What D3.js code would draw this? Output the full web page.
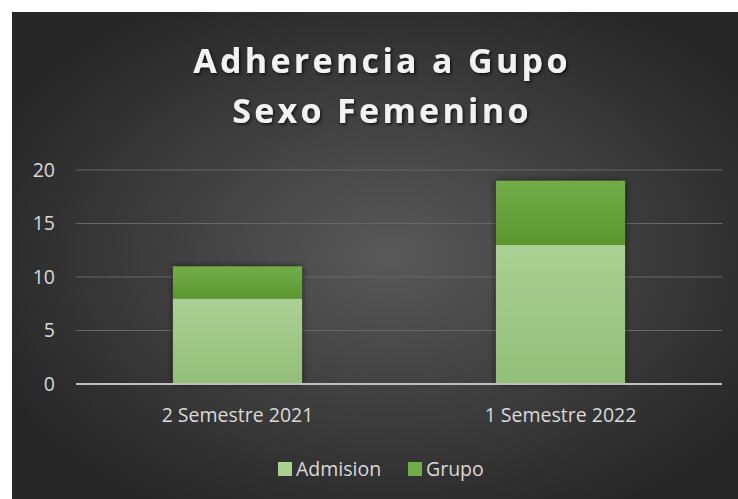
<!DOCTYPE html>
<html>
<head>
<meta charset="utf-8">
<script src="https://cdn.jsdelivr.net/npm/d3@7"></script>
<style>
  body { margin: 0; background: #fff; }
  text { font-family: "Open Sans", "Noto Sans", sans-serif; }
</style>
</head>
<body>
<script>
var categories = ["2 Semestre 2021", "1 Semestre 2022"];
var admision = [8, 13];
var grupo = [3, 6];
var seriesNames = ["Admision", "Grupo"];
var yTicks = [0, 5, 10, 15, 20];

var w = 738, h = 499;
var svg = d3.select("body").append("svg")
    .attr("width", w)
    .attr("height", h);

var defs = svg.append("defs");
var bg = defs.append("radialGradient").attr("id", "bg")
    .attr("cx", "52%").attr("cy", "50%").attr("r", "60%");
bg.append("stop").attr("offset", "0%").attr("stop-color", "#595959");
bg.append("stop").attr("offset", "100%").attr("stop-color", "#262626");

var g1 = defs.append("linearGradient").attr("id", "gA").attr("x1", 0).attr("y1", 0).attr("x2", 0).attr("y2", 1);
g1.append("stop").attr("offset", "0%").attr("stop-color", "#abd093");
g1.append("stop").attr("offset", "100%").attr("stop-color", "#93bf79");
var g2 = defs.append("linearGradient").attr("id", "gG").attr("x1", 0).attr("y1", 0).attr("x2", 0).attr("y2", 1);
g2.append("stop").attr("offset", "0%").attr("stop-color", "#72ad4a");
g2.append("stop").attr("offset", "100%").attr("stop-color", "#5b962e");

var shadow = defs.append("filter").attr("id", "sh")
    .attr("x", "-20%").attr("y", "-20%").attr("width", "140%").attr("height", "140%");
shadow.append("feGaussianBlur").attr("in", "SourceAlpha").attr("stdDeviation", 3);
shadow.append("feComponentTransfer").append("feFuncA").attr("type", "linear").attr("slope", 0.6);
var merge = shadow.append("feMerge");
merge.append("feMergeNode");
merge.append("feMergeNode").attr("in", "SourceGraphic");

var tshadow = defs.append("filter").attr("id", "tsh");
tshadow.append("feDropShadow").attr("dx", 1.5).attr("dy", 1.5).attr("stdDeviation", 1.5)
    .attr("flood-color", "#000").attr("flood-opacity", 0.7);

svg.append("rect")
    .attr("x", 12).attr("y", 12)
    .attr("width", w - 12).attr("height", h - 12)
    .attr("fill", "url(#bg)");

// title
var title = svg.append("text")
    .attr("text-anchor", "middle")
    .attr("fill", "#f2f2f2")
    .attr("font-size", 34)
    .attr("font-weight", "bold")
    .attr("letter-spacing", 3.3)
    .attr("filter", "url(#tsh)");
title.append("tspan").attr("x", 382).attr("y", 73).text("Adherencia a Gupo");
title.append("tspan").attr("x", 382).attr("y", 123).text("Sexo Femenino");

var x = d3.scaleBand()
    .domain(categories)
    .range([76, 722])
    .paddingInner(0.6)
    .paddingOuter(0.3);
var y = d3.scaleLinear().domain([0, 20]).range([384, 170]);

// gridlines
svg.append("g").selectAll("line")
    .data(yTicks.slice(1))
  .enter().append("line")
    .attr("x1", 76).attr("x2", 722)
    .attr("y1", function(d) { return y(d); })
    .attr("y2", function(d) { return y(d); })
    .attr("stroke", "#676767")
    .attr("stroke-width", 1);

// y axis
var yAxis = svg.append("g")
    .attr("transform", "translate(" + 55 + ",0)")
    .call(d3.axisLeft(y).tickValues(yTicks).tickSize(0).tickPadding(0));
yAxis.select(".domain").remove();
yAxis.selectAll("text")
    .attr("fill", "#d9d9d9")
    .attr("font-size", 19.5)
    .attr("font-family", "'Open Sans', sans-serif");

// stacked bars
var rows = categories.map(function(c, i) {
  return {cat: c, Admision: admision[i], Grupo: grupo[i]};
});
var stack = d3.stack().keys(seriesNames)(rows);
var fills = {Admision: "url(#gA)", Grupo: "url(#gG)"};

var barG = svg.append("g");
barG.selectAll("rect.sh")
    .data(rows)
  .enter().append("rect")
    .attr("class", "sh")
    .attr("x", function(d) { return x(d.cat); })
    .attr("width", x.bandwidth())
    .attr("y", function(d) { return y(d.Admision + d.Grupo); })
    .attr("height", function(d) { return y(0) - y(d.Admision + d.Grupo); })
    .attr("fill", "#3a3a3a")
    .attr("filter", "url(#sh)");

stack.forEach(function(s) {
  barG.selectAll("rect." + s.key)
      .data(s)
    .enter().append("rect")
      .attr("class", s.key)
      .attr("x", function(d) { return x(d.data.cat); })
      .attr("width", x.bandwidth())
      .attr("y", function(d) { return y(d[1]); })
      .attr("height", function(d) { return y(d[0]) - y(d[1]); })
      .attr("fill", fills[s.key]);
});

// x axis line
svg.append("line")
    .attr("x1", 76).attr("x2", 722)
    .attr("y1", y(0)).attr("y2", y(0))
    .attr("stroke", "#bfbfbf")
    .attr("stroke-width", 2);

var xAxis = svg.append("g")
    .attr("transform", "translate(0," + y(0) + ")")
    .call(d3.axisBottom(x).tickSize(0).tickPadding(24));
xAxis.select(".domain").remove();
xAxis.selectAll("text")
    .attr("fill", "#d9d9d9")
    .attr("font-size", 19.5)
    .attr("font-family", "'Open Sans', sans-serif");

// legend
var legend = svg.append("g").attr("transform", "translate(278,476)");
var legX = [0, 130];
seriesNames.forEach(function(n, i) {
  var lg = legend.append("g").attr("transform", "translate(" + legX[i] + ",0)");
  lg.append("rect").attr("x", 0).attr("y", -14).attr("width", 14).attr("height", 14)
    .attr("fill", i == 0 ? "#a9d18e" : "#70ad47");
  lg.append("text").attr("x", 18).attr("y", 0)
    .attr("fill", "#d9d9d9").attr("font-size", 19.5)
    .text(n);
});
</script>
</body>
</html>
